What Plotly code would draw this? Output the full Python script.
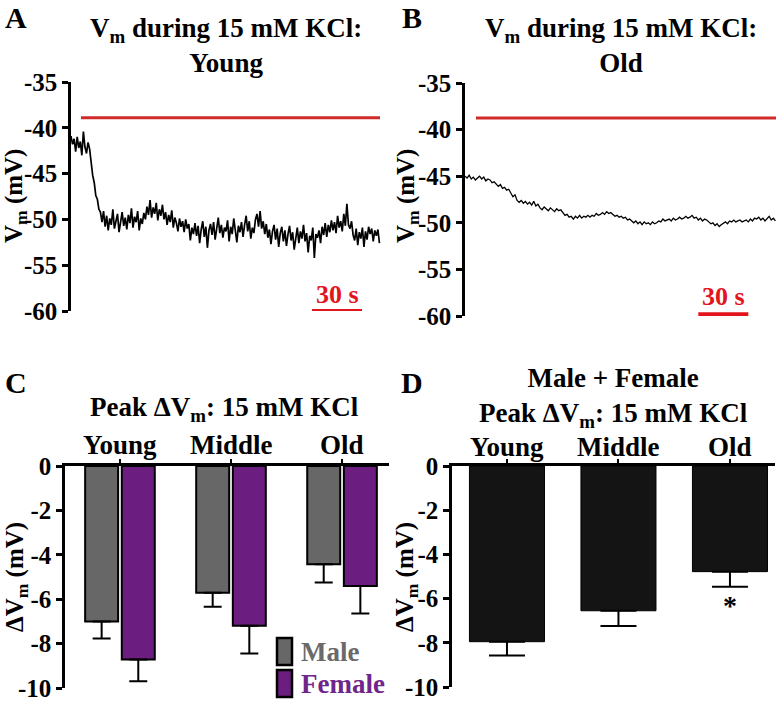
import plotly.graph_objects as go

W, H = 779, 703
font_family = 'Liberation Serif'

# ---- data ----
# A: Vm trace, young (mV), one sample every 0.93 s
vm_young = [
    -40.9, -41.8, -41.2, -42.6, -41.0, -42.2, -41.5, -43.0, -40.4, -42.1,
    -42.8, -41.6, -42.3, -43.8, -45.2, -46.0, -47.4, -47.8, -48.9, -49.2,
    -50.3, -49.1, -50.8, -49.6, -51.2, -49.9, -50.6, -48.9, -51.0, -50.2,
    -49.4, -51.4, -50.0, -49.2, -50.7, -49.8, -51.1, -49.5, -50.4, -48.8,
    -50.9, -49.7, -50.3, -49.1, -51.2, -49.9, -50.5, -49.3, -50.0, -48.6,
    -49.5, -47.9, -49.8, -48.7, -49.4, -48.2, -50.1, -48.9, -49.6, -48.4,
    -50.0, -49.2, -50.6, -49.5, -50.3, -49.0, -50.9, -49.8, -50.4, -51.3,
    -49.9, -50.8, -50.2, -51.4, -50.0, -51.0, -50.5, -52.3, -50.9, -51.6,
    -50.4, -51.8, -50.7, -52.6, -51.1, -50.2, -51.9, -50.8, -53.1, -51.2,
    -50.5, -51.7, -50.3, -52.2, -51.0, -49.8, -51.5, -50.6, -52.0, -50.9,
    -51.3, -50.1, -52.4, -50.8, -51.6, -49.9, -51.2, -52.5, -50.7, -51.4,
    -50.3, -51.9, -50.6, -49.6, -51.3, -50.2, -52.1, -50.9, -51.5, -50.0,
    -49.4, -50.8, -49.1, -51.0, -50.2, -51.6, -50.5, -52.0, -51.1, -52.7,
    -51.3, -50.6, -52.2, -51.0, -53.0, -51.5, -50.8, -52.4, -51.2, -52.9,
    -51.6, -50.7, -52.3, -51.4, -53.3, -51.9, -50.9, -52.6, -51.3, -52.1,
    -50.6, -52.4, -51.5, -53.6, -51.8, -52.3, -50.9, -54.2, -51.6, -52.0,
    -51.2, -52.6, -50.8, -51.7, -50.4, -51.9, -50.6, -51.4, -50.1, -51.2,
    -50.3, -51.5, -49.6, -50.9, -50.2, -51.3, -49.4, -50.7, -48.3, -50.6,
    -51.0, -50.2, -51.7, -52.3, -51.0, -52.8, -51.4, -52.1, -50.9, -53.0,
    -51.3, -52.2, -50.8, -51.6, -51.0, -52.4, -51.2, -51.8, -51.1, -52.6,
]
dt_young = 0.93

# B: Vm trace, old (mV), one sample every 1.25 s
vm_old = [
    -45.0, -45.2, -44.9, -45.3, -45.1, -45.4, -45.2, -45.0, -45.3, -45.1,
    -45.5, -45.3, -45.4, -45.7, -45.6, -45.9, -46.1, -45.9, -46.3, -46.2,
    -46.5, -46.4, -46.8, -47.2, -47.0, -47.6, -47.8, -47.6, -47.9, -47.7,
    -48.0, -47.8, -48.1, -47.7, -48.2, -48.0, -48.4, -48.6, -48.3, -48.5,
    -48.7, -48.4, -48.6, -48.8, -48.5, -48.7, -48.6, -48.9, -49.2, -49.1,
    -49.4, -49.3, -49.6, -49.3, -49.5, -49.2, -49.5, -49.3, -49.4, -49.2,
    -49.4, -49.2, -49.3, -49.0, -49.2, -49.1, -48.9, -49.1, -48.8, -49.0,
    -48.9, -49.1, -49.3, -49.2, -49.4, -49.3, -49.5, -49.4, -49.7, -49.6,
    -49.8, -50.0, -49.8, -50.1, -49.9, -50.2, -49.9, -50.1, -50.0, -50.2,
    -49.9, -50.1, -50.0, -49.8, -49.9, -49.6, -49.8, -49.7, -49.6, -49.8,
    -49.5, -49.7, -49.6, -49.4, -49.6, -49.5, -49.3, -49.5, -49.4, -49.2,
    -49.5, -49.4, -49.7, -49.5, -49.8, -49.6, -49.7, -49.9, -50.1, -50.0,
    -50.3, -50.1, -50.4, -50.2, -50.0, -49.9, -50.1, -49.8, -49.9, -49.7,
    -49.9, -49.8, -49.7, -49.9, -49.8, -49.7, -49.9, -49.6, -49.8, -49.5,
    -49.6, -49.4, -49.7, -49.5, -49.8, -49.6, -49.3, -49.7, -49.5, -49.8,
]
dt_old = 1.25

# KCl application bar (s, mV) and 30 s scale bars
kcl_young = dict(t=[6.0, 185.4], level=-38.9)
kcl_old = dict(t=[6.6, 186.6], level=-38.75)
scale_young = dict(t=[144.6, 174.6], level=-60.0)
scale_old = dict(t=[140.0, 170.0], level=-59.8)

# C / D: peak delta Vm (mV) and SEM
age_groups = ['Young', 'Middle', 'Old']
male_dv = [-7.0, -5.71, -4.43]
male_sem = [0.77, 0.63, 0.82]
female_dv = [-8.72, -7.2, -5.4]
female_sem = [0.98, 1.25, 1.24]
combined_dv = [-7.95, -6.55, -4.78]
combined_sem = [0.63, 0.69, 0.68]

vm_ticks = [-35, -40, -45, -50, -55, -60]
dv_ticks = [0, -2, -4, -6, -8, -10]

grey = '#676767'
purple = '#6c1d80'
red_line = '#d02a2a'
red_scale = '#e3141b'


def px(x):
    return x / W


def py(y):
    return 1 - y / H


fig = go.Figure()

# A
fig.add_trace(go.Scatter(y=vm_young, x0=0, dx=dt_young, mode='lines',
                         line=dict(color='black', width=1.7), xaxis='x', yaxis='y'))
fig.add_trace(go.Scatter(x=kcl_young['t'], y=[kcl_young['level']] * 2, mode='lines',
                         line=dict(color=red_line, width=3), xaxis='x', yaxis='y'))
fig.add_trace(go.Scatter(x=scale_young['t'], y=[scale_young['level']] * 2, mode='lines',
                         line=dict(color=red_scale, width=4), cliponaxis=False,
                         xaxis='x', yaxis='y'))
# B
fig.add_trace(go.Scatter(y=vm_old, x0=0, dx=dt_old, mode='lines',
                         line=dict(color='black', width=1.3), xaxis='x2', yaxis='y2'))
fig.add_trace(go.Scatter(x=kcl_old['t'], y=[kcl_old['level']] * 2, mode='lines',
                         line=dict(color=red_line, width=3), xaxis='x2', yaxis='y2'))
fig.add_trace(go.Scatter(x=scale_old['t'], y=[scale_old['level']] * 2, mode='lines',
                         line=dict(color=red_scale, width=4), cliponaxis=False,
                         xaxis='x2', yaxis='y2'))

# C
for vals, sem, colour in [(male_dv, male_sem, grey), (female_dv, female_sem, purple)]:
    fig.add_trace(go.Bar(
        x=age_groups, y=vals, xaxis='x3', yaxis='y3',
        marker=dict(color=colour, line=dict(color='black', width=2)),
        error_y=dict(type='data', symmetric=False, array=[0] * len(vals), arrayminus=sem,
                     color='black', thickness=2, width=9),
    ))

# D
fig.add_trace(go.Bar(
    x=age_groups, y=combined_dv, xaxis='x4', yaxis='y4', width=0.673,
    marker=dict(color='#141414', line=dict(color='black', width=1)),
    error_y=dict(type='data', symmetric=False, array=[0] * 3, arrayminus=combined_sem,
                 color='black', thickness=2, width=18),
))

tick_font = dict(family=font_family, size=25, color='black', weight='bold')

trace_x = dict(showline=False, showgrid=False, zeroline=False, showticklabels=False,
               automargin=False, range=[0, 187.2])
vm_y = dict(range=[-60, -35], showgrid=False, zeroline=False, showline=True,
            linecolor='black', linewidth=2.5, ticks='outside', ticklen=6, tickwidth=2.5,
            tickcolor='black', tickvals=vm_ticks, ticktext=[str(v) for v in vm_ticks],
            tickfont=tick_font, automargin=False)
dv_y = dict(range=[-10, 0], showgrid=False, zeroline=False, showline=True,
            linecolor='black', linewidth=2.5, ticks='outside', ticklen=6, tickwidth=2.5,
            tickcolor='black', tickvals=dv_ticks, ticktext=[str(v) for v in dv_ticks],
            tickfont=tick_font, automargin=False)
cat_x = dict(side='top', showline=True, linecolor='black', linewidth=2.5, showgrid=False,
             zeroline=False, ticks='outside', ticklen=4, tickwidth=2, tickcolor='black',
             showticklabels=False, automargin=False)

fig.update_layout(
    template='none',
    width=W, height=H,
    autosize=False,
    paper_bgcolor='white', plot_bgcolor='white',
    showlegend=False,
    margin=dict(l=0, r=0, t=0, b=0, pad=0),
    font=dict(family=font_family, color='black'),
    barmode='group',
    xaxis=dict(domain=[px(71), px(383)], anchor='y', **trace_x),
    yaxis=dict(domain=[py(311), py(82)], anchor='x', **vm_y),
    xaxis2=dict(domain=[px(465), px(777)], anchor='y2', **trace_x),
    yaxis2=dict(domain=[py(316), py(83)], anchor='x2', **vm_y),
    xaxis3=dict(domain=[px(65), px(389)], anchor='y3', range=[-0.495, 2.423], **cat_x),
    yaxis3=dict(domain=[py(688), py(466)], anchor='x3', **dv_y),
    xaxis4=dict(domain=[px(452), px(775)], anchor='y4', range=[-0.493, 2.404], **cat_x),
    yaxis4=dict(domain=[py(687), py(466)], anchor='x4', **dv_y),
    bargap=0.34,
    bargroupgap=0.1,
)

bold = dict(family=font_family, color='black', weight='bold')
annotations = [
    # panel letters
    dict(text='A', x=px(16), y=py(18), size=30),
    dict(text='B', x=px(412), y=py(18), size=30),
    dict(text='C', x=px(16), y=py(382), size=30),
    dict(text='D', x=px(412), y=py(382), size=30),
    # titles
    dict(text='V<sub>m</sub> during 15 mM KCl:<br>Young', x=px(226), y=py(46), size=27),
    dict(text='V<sub>m</sub> during 15 mM KCl:<br>Old', x=px(621), y=py(46), size=27),
    dict(text='Peak ΔV<sub>m</sub>: 15 mM KCl', x=px(225), y=py(409), size=27),
    dict(text='Male + Female<br>Peak ΔV<sub>m</sub>: 15 mM KCl', x=px(613), y=py(397), size=27),
    # y titles
    dict(text='V<sub>m</sub> (mV)', x=px(15), y=py(196), size=25, textangle=-90),
    dict(text='V<sub>m</sub> (mV)', x=px(407), y=py(196), size=25, textangle=-90),
    dict(text='ΔV<sub>m</sub> (mV)', x=px(16), y=py(577), size=25, textangle=-90),
    dict(text='ΔV<sub>m</sub> (mV)', x=px(406), y=py(577), size=25, textangle=-90),
]
for a in annotations:
    fig.add_annotation(text=a['text'], x=a['x'], y=a['y'], xref='paper', yref='paper',
                       showarrow=False, textangle=a.get('textangle', 0),
                       xanchor='center', yanchor='middle',
                       font=dict(size=a['size'], **bold))

# age group labels above the zero line
for xref, ylab in [('x3', 445), ('x4', 447)]:
    for g in age_groups:
        fig.add_annotation(text=g, x=g, y=py(ylab), xref=xref, yref='paper', showarrow=False,
                           xanchor='center', yanchor='middle', font=dict(size=27, **bold))

# scale bar labels
fig.add_annotation(text='30 s', x=sum(scale_young['t']) / 2, y=-58.2, xref='x', yref='y',
                   showarrow=False, font=dict(family=font_family, size=26, color=red_scale,
                                              weight='bold'))
fig.add_annotation(text='30 s', x=sum(scale_old['t']) / 2, y=-57.9, xref='x2', yref='y2',
                   showarrow=False, font=dict(family=font_family, size=26, color=red_scale,
                                              weight='bold'))
# significance
fig.add_annotation(text='*', x='Old', y=-6.3, xref='x4', yref='y4', showarrow=False,
                   font=dict(family=font_family, size=28, color='black', weight='bold'))

# legend for C
for label, colour, text_colour, y0 in [('Male', grey, '#6a6a6a', 638), ('Female', purple, '#70258a', 670)]:
    fig.add_shape(type='rect', xref='paper', yref='paper', x0=px(277), x1=px(292),
                  y0=py(y0 + 27), y1=py(y0), fillcolor=colour, line=dict(color='black', width=2.5))
    fig.add_annotation(text=label, x=px(299), y=py(y0 + 14), xref='paper', yref='paper',
                       showarrow=False, xanchor='left', yanchor='middle',
                       font=dict(size=27, family=font_family, color=text_colour, weight='bold'))

# drop the browser's default 8 px body margin so the figure starts at the page corner
fig.write_html("out.html", config={'displayModeBar': False},
               post_script="document.body.style.margin = '0px';")
